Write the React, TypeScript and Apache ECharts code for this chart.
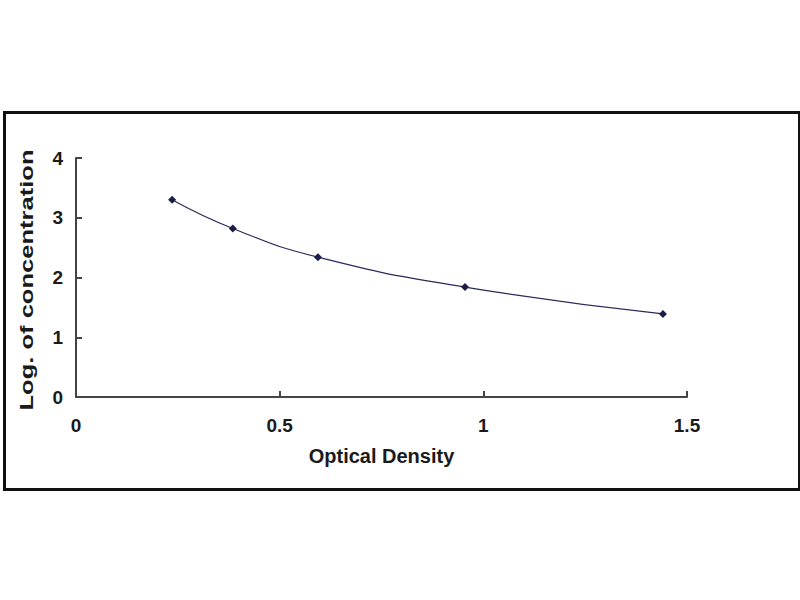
import React, { useEffect, useRef } from "react";
import * as echarts from "echarts";

const opticalDensity = [0.236, 0.385, 0.594, 0.955, 1.441];
const logConcentration = [3.3, 2.82, 2.34, 1.84, 1.39];
const xTicks = [0, 0.5, 1, 1.5];
const yTicks = [0, 1, 2, 3, 4];
const xTitle = "Optical Density";
const yTitle = "Log. of concentration";

export default function App() {
  const ref = useRef<HTMLDivElement>(null);
  useEffect(() => {
    if (!ref.current) return;
    const chart = echarts.init(ref.current, null, { renderer: "svg" });
    const font = "'Liberation Sans', Arial, sans-serif";
    chart.setOption({
      animation: false,
      backgroundColor: "#ffffff",
      grid: { left: 76, top: 158, right: 113, bottom: 203 },
      xAxis: {
        type: "value",
        min: xTicks[0],
        max: xTicks[xTicks.length - 1],
        interval: 0.5,
        name: xTitle,
        nameLocation: "middle",
        nameGap: 49,
        nameTextStyle: { fontFamily: font, fontWeight: "bold", fontSize: 20, color: "#1a1a1a" },
        axisLine: { show: true, lineStyle: { color: "#444", width: 2 } },
        axisTick: { show: true, inside: true, length: 6, lineStyle: { color: "#444", width: 2 } },
        axisLabel: {
          fontFamily: font,
          fontWeight: "bold",
          fontSize: 19,
          color: "#1a1a1a",
          margin: 19,
          formatter: (v: number) => String(v),
        },
        splitLine: { show: false },
      },
      yAxis: {
        type: "value",
        min: yTicks[0],
        max: yTicks[yTicks.length - 1],
        interval: 1,
        axisLine: { show: true, lineStyle: { color: "#444", width: 2 } },
        axisTick: { show: true, inside: true, length: 6, lineStyle: { color: "#444", width: 2 } },
        axisLabel: { fontFamily: font, fontWeight: "bold", fontSize: 19, color: "#1a1a1a", margin: 13 },
        splitLine: { show: false },
      },
      graphic: [
        {
          type: "rect",
          left: 2,
          top: 110,
          shape: { x: 0, y: 0, width: 795, height: 377 },
          style: { fill: "none", stroke: "#111", lineWidth: 3 },
          z: 100,
        },
        {
          type: "text",
          x: 27,
          y: 280,
          rotation: Math.PI / 2,
          scaleX: 1.42,
          style: {
            text: yTitle,
            fontFamily: font,
            fontWeight: "bold",
            fontSize: 18,
            fill: "#1a1a1a",
            align: "center",
            verticalAlign: "middle",
          },
        },
      ],
      series: [
        {
          type: "line",
          data: opticalDensity.map((x, i) => [x, logConcentration[i]]),
          smooth: true,
          symbol: "diamond",
          symbolSize: 8,
          lineStyle: { color: "#2a2a5c", width: 1.2 },
          itemStyle: { color: "#1c1c4a" },
        },
      ],
    });
    return () => chart.dispose();
  }, []);
  return (
    <div
      ref={ref}
      style={{ position: "fixed", left: 0, top: 0, width: 800, height: 600 }}
    />
  );
}
